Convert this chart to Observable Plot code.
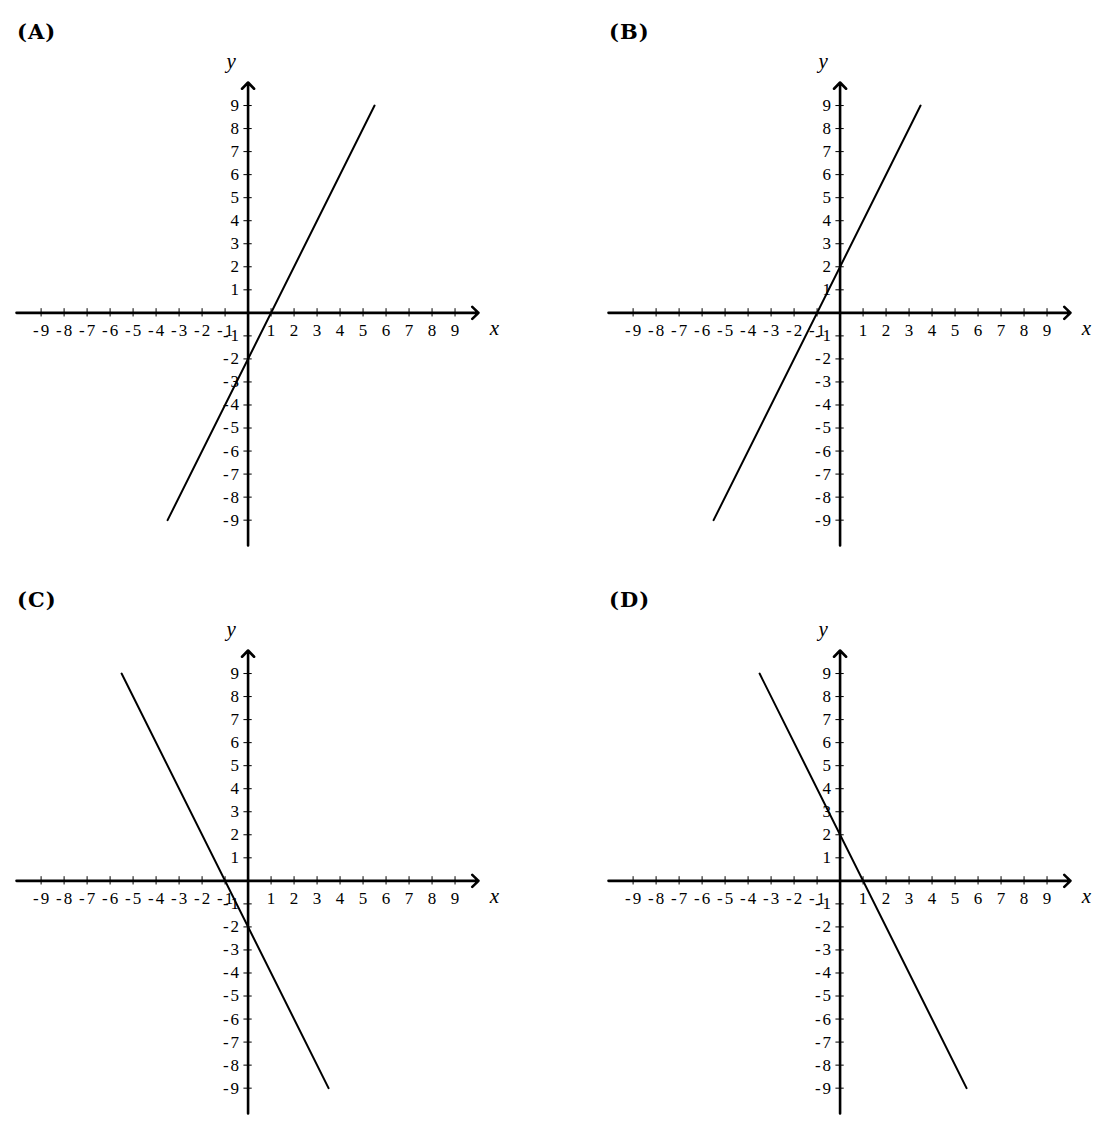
<!DOCTYPE html>
<html>
<head>
<meta charset="utf-8">
<script src="https://cdn.jsdelivr.net/npm/d3@7"></script>
<script src="https://cdn.jsdelivr.net/npm/@observablehq/plot@0.6"></script>
<style>
  html, body { margin: 0; padding: 0; background: #fff; }
  #root { position: relative; width: 1116px; height: 1125px; overflow: hidden; }
  .panel { position: absolute; width: 530px; height: 562px; }
  .panel svg { max-width: none !important; width: 530px; height: 562px; overflow: visible; }
  .panel .ticklab text { letter-spacing: 2px; }
  .title { position: absolute; font-family: "DejaVu Serif", serif; font-weight: bold; font-size: 21px; letter-spacing: 1px; line-height: 1; color: #000; white-space: nowrap; }
</style>
</head>
<body>
<div id="root"></div>
<script>
// ---- data ----
const panelTitles = ["(A)", "(B)", "(C)", "(D)"];
const panelLeft = [0, 592, 0, 592];
const panelTop = [0, 0, 568, 568];
// line endpoints per panel (y = 2x-2, y = 2x+2, y = -2x-2, y = -2x+2)
const lineX1 = [-3.5, -5.5, -5.5, -3.5];
const lineY1 = [-9, -9, 9, 9];
const lineX2 = [5.5, 3.5, 3.5, 5.5];
const lineY2 = [9, 9, -9, -9];
// tick values / labels
const tickValues = [-9, -8, -7, -6, -5, -4, -3, -2, -1, 1, 2, 3, 4, 5, 6, 7, 8, 9];
const tickLabels = ["-9", "-8", "-7", "-6", "-5", "-4", "-3", "-2", "-1", "1", "2", "3", "4", "5", "6", "7", "8", "9"];
const xDomain = [-10.07, 10.02];
const yDomain = [-10.1, 10.0];

const root = document.getElementById("root");
const font = "'Liberation Serif', 'Times New Roman', serif";

panelTitles.forEach((title, i) => {
  const ticks = tickValues.map((v, j) => ({v, label: tickLabels[j]}));
  const axes = [
    {x1: xDomain[0], y1: 0, x2: xDomain[1], y2: 0},
    {x1: 0, y1: yDomain[0], x2: 0, y2: yDomain[1]}
  ];
  const line = [{x: lineX1[i], y: lineY1[i]}, {x: lineX2[i], y: lineY2[i]}];

  const chart = Plot.plot({
    width: 530,
    height: 562,
    marginLeft: 16,
    marginRight: 52,
    marginTop: 82,
    marginBottom: 17,
    x: {domain: xDomain, axis: null},
    y: {domain: yDomain, axis: null},
    style: {fontFamily: font, background: "transparent", overflow: "visible"},
    marks: [
      Plot.ruleX(ticks, {x: "v", y1: () => -0.18, y2: () => 0.18, stroke: "black", strokeWidth: 1}),
      Plot.ruleY(ticks, {y: "v", x1: () => -0.18, x2: () => 0.18, stroke: "black", strokeWidth: 1}),
      Plot.arrow(axes, {x1: "x1", y1: "y1", x2: "x2", y2: "y2", stroke: "black", strokeWidth: 2.6, headLength: 5, headAngle: 88}),
      Plot.text(ticks, {x: "v", y: () => 0, dx: 1, dy: 18, text: "label", fontSize: 17, fontFamily: font, fill: "black", className: "ticklab"}),
      Plot.text(ticks, {x: () => 0, y: "v", dx: -7, text: "label", textAnchor: "end", fontSize: 17, fontFamily: font, fill: "black", className: "ticklab"}),
      Plot.text(["x"], {x: () => xDomain[1], y: () => 0, dx: 16, dy: 15, text: d => d, fontSize: 21, fontStyle: "italic", fontFamily: font, fill: "black"}),
      Plot.text(["y"], {x: () => 0, y: () => yDomain[1], dx: -17, dy: -21, text: d => d, fontSize: 21, fontStyle: "italic", fontFamily: font, fill: "black"}),
      Plot.line(line, {x: "x", y: "y", stroke: "black", strokeWidth: 2})
    ]
  });

  const wrap = document.createElement("div");
  wrap.className = "panel";
  wrap.style.left = panelLeft[i] + "px";
  wrap.style.top = panelTop[i] + "px";
  wrap.appendChild(chart);
  root.appendChild(wrap);

  const t = document.createElement("div");
  t.className = "title";
  t.textContent = title;
  t.style.left = (panelLeft[i] + 17) + "px";
  t.style.top = (panelTop[i] + 21) + "px";
  root.appendChild(t);
});
</script>
</body>
</html>
